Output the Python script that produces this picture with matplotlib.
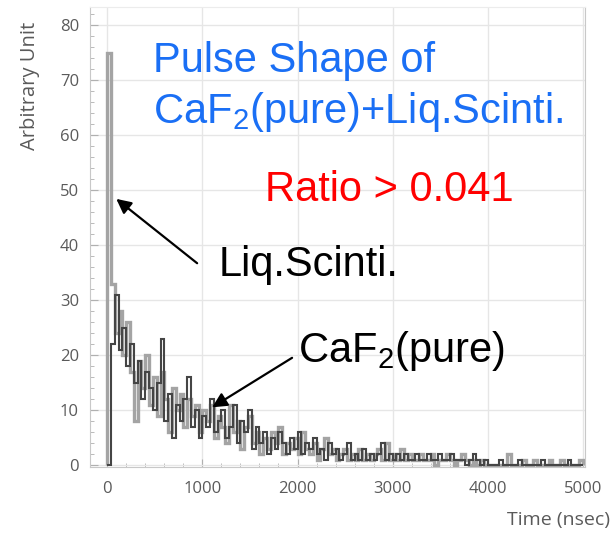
import numpy as np
import matplotlib
matplotlib.use("Agg")
import matplotlib.pyplot as plt
from matplotlib.ticker import MultipleLocator

# histogram bins, 40 ns wide, 0 .. 5000 ns
bin_edges = np.arange(0, 5001, 40)

# light grey trace (includes the liquid scintillator spike in the first bin)
light_counts = [
    75, 33, 24, 28, 20, 26, 17, 8, 19, 14,
    20, 11, 16, 9, 17, 12, 6, 14, 10, 13,
    7, 12, 9, 11, 6, 10, 8, 11, 5, 9,
    7, 4, 11, 6, 8, 3, 7, 9, 4, 6,
    2, 5, 3, 6, 4, 7, 2, 4, 3, 5,
    2, 6, 3, 2, 4, 1, 3, 5, 2, 3,
    1, 2, 3, 1, 2, 1, 3, 1, 2, 1,
    2, 3, 1, 4, 1, 2, 1, 3, 1, 2,
    1, 1, 2, 1, 1, 2, 0, 1, 1, 2,
    1, 0, 1, 2, 1, 0, 1, 0, 1, 0,
    0, 0, 0, 0, 0, 2, 0, 0, 0, 1,
    0, 0, 1, 0, 0, 0, 1, 0, 0, 1,
    0, 0, 0, 0, 1,
]

# dark grey trace
dark_counts = [
    0, 22, 31, 21, 25, 18, 22, 15, 19, 12,
    17, 14, 10, 15, 23, 8, 13, 5, 11, 8,
    12, 16, 7, 10, 5, 9, 7, 12, 6, 8,
    10, 5, 7, 11, 4, 8, 6, 10, 3, 7,
    4, 6, 2, 5, 3, 6, 4, 2, 5, 3,
    6, 2, 4, 3, 5, 2, 3, 1, 4, 2,
    3, 1, 2, 4, 1, 2, 1, 3, 1, 2,
    1, 2, 4, 1, 2, 1, 2, 1, 2, 1,
    1, 2, 1, 1, 2, 1, 1, 2, 1, 1,
    2, 1, 1, 1, 0, 1, 2, 1, 0, 1,
    0, 0, 0, 1, 0, 0, 0, 0, 1, 0,
    0, 0, 0, 0, 1, 0, 0, 0, 0, 0,
    0, 1, 0, 0, 0,
]

plt.rcParams['font.family'] = ['Liberation Sans', 'DejaVu Sans']
plt.rcParams['mathtext.fontset'] = 'custom'
plt.rcParams['mathtext.rm'] = 'Liberation Sans'
plt.rcParams['mathtext.it'] = 'Liberation Sans'

fig = plt.figure(figsize=(6.13, 5.34), dpi=100)
ax = fig.add_axes([0.147, 0.1255, 0.807, 0.8615])

ax.stairs(light_counts, bin_edges, color='#a4a4a4', lw=2.4)
ax.stairs(dark_counts, bin_edges, color='#454545', lw=1.5)

ax.set_xlim(-180, 5020)
ax.set_ylim(-0.35, 83.3)
ax.xaxis.set_major_locator(MultipleLocator(1000))
ax.yaxis.set_major_locator(MultipleLocator(10))
ax.xaxis.set_minor_locator(MultipleLocator(200))
ax.yaxis.set_minor_locator(MultipleLocator(2))
ax.grid(True, which='major', color='#e6e6e6', lw=1.0)
ax.set_axisbelow(True)
ax.tick_params(which='both', direction='in', colors='#b0b0b0',
               labelcolor='#5a5a5a', labelsize=12)
ax.tick_params(which='major', length=6)
ax.tick_params(which='minor', length=3)
ax.tick_params(axis='y', pad=8)
ax.tick_params(axis='x', pad=10)
for lab in ax.get_xticklabels() + ax.get_yticklabels():
    lab.set_family('Open Sans')
for s in ax.spines.values():
    s.set_color('#c8c8c8')
ax.spines['top'].set_color('#ececec')

fig.text(0.049, 0.84, 'Arbitrary Unit', rotation=90, ha='center', va='center',
         color='#5a5a5a', fontsize=14.5, family='Open Sans')
fig.text(0.995, 0.026, 'Time (nsec)', ha='right', va='center',
         color='#5a5a5a', fontsize=14, family='Open Sans')

blue = '#1a6ff5'
ax.text(483, 71.5, 'Pulse Shape of', color=blue, fontsize=30, va='baseline')
ax.text(483, 62.2, r'CaF$_2$(pure)+Liq.Scinti.', color=blue, fontsize=30, va='baseline')
ax.text(1660, 48, 'Ratio > 0.041', color='#ff0000', fontsize=30, va='baseline')

arrow = dict(arrowstyle='-|>', color='black', lw=1.6, mutation_scale=22,
             shrinkA=0, shrinkB=0)
ax.text(1166, 34.4, 'Liq.Scinti.', color='black', fontsize=30, va='baseline')
ax.annotate('', xy=(95, 48.4), xytext=(945, 36.7), arrowprops=arrow)
ax.text(2006, 18.7, r'CaF$_2$(pure)', color='black', fontsize=30, va='baseline')
ax.annotate('', xy=(1103, 10.5), xytext=(1943, 19.5), arrowprops=arrow)

fig.savefig('out.png', dpi=100)
